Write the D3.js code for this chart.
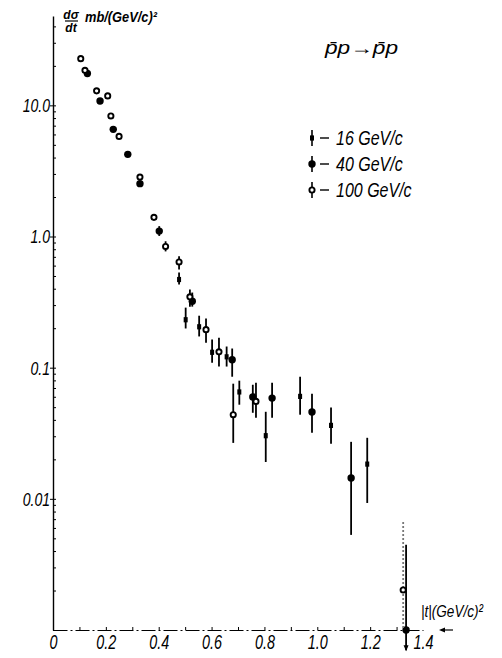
<!DOCTYPE html>
<html>
<head>
<meta charset="utf-8">
<script src="https://cdn.jsdelivr.net/npm/d3@7"></script>
<style>
    body { margin: 0; background: #fff; }
    svg text { font-family: 'Liberation Sans', Arial, sans-serif; font-style: italic; fill: #000; }
</style>
</head>
<body>
<svg id="chart"></svg>
<script>
// |t| in (GeV/c)^2, dsigma/dt in mb/(GeV/c)^2
const seriesLabels = ["16 GeV/c", "40 GeV/c", "100 GeV/c"];

const t16 = [0.477, 0.502, 0.553, 0.602, 0.657, 0.705, 0.805, 0.935, 1.052, 1.189];
const v16 = [0.47, 0.232, 0.205, 0.131, 0.121, 0.0653, 0.0303, 0.0604, 0.0363, 0.0184];
const lo16 = [0.43, 0.199, 0.173, 0.109, 0.102, 0.0522, 0.0191, 0.0438, 0.0263, 0.0093];
const hi16 = [0.531, 0.287, 0.249, 0.164, 0.145, 0.0796, 0.0461, 0.0853, 0.0496, 0.0292];

const t40 = [0.130, 0.178, 0.228, 0.283, 0.329, 0.402, 0.527, 0.678, 0.756, 0.829, 0.980, 1.128, 1.336];
const v40 = [17.5, 10.8, 6.56, 4.23, 2.53, 1.10, 0.321, 0.115, 0.0597, 0.0586, 0.0459, 0.0144, 0.001];
const lo40 = [17.5, 10.8, 6.56, 4.23, 2.53, 1.01, 0.292, 0.0853, 0.0453, 0.0415, 0.0319, 0.00531, 0.0007];
const hi40 = [17.5, 10.8, 6.56, 4.23, 2.53, 1.20, 0.374, 0.140, 0.0741, 0.0767, 0.0634, 0.0272, 0.00446];

const t100 = [0.105, 0.121, 0.165, 0.207, 0.219, 0.250, 0.329, 0.382, 0.426, 0.477, 0.518, 0.579, 0.628, 0.682, 0.768, 1.325];
const v100 = [22.7, 18.5, 12.9, 11.8, 8.3, 5.8, 2.84, 1.40, 0.84, 0.64, 0.347, 0.195, 0.132, 0.0438, 0.0553, 0.00202];
const lo100 = [22.7, 18.5, 12.9, 11.8, 8.3, 5.8, 2.84, 1.40, 0.77, 0.56, 0.292, 0.155, 0.102, 0.0267, 0.0415, 0.00102];
const hi100 = [22.7, 18.5, 12.9, 11.8, 8.3, 5.8, 2.84, 1.40, 0.92, 0.708, 0.394, 0.237, 0.169, 0.0755, 0.0767, 0.00667];

const xTicks = [0, 0.2, 0.4, 0.6, 0.8, 1.0, 1.2, 1.4];
const yTicks = [10, 1, 0.1, 0.01];
const yTickLabels = ["10.0", "1.0", "0.1", "0.01"];

const zip = (t, v, lo, hi) => t.map((d, i) => ({ t: d, v: v[i], lo: lo[i], hi: hi[i] }));

// squeeze text to look like the narrow hand lettering
const squeeze = (sel, k) => sel.each(function () {
    this.setAttribute("lengthAdjust", "spacingAndGlyphs");
    this.setAttribute("textLength", this.getComputedTextLength() * k);
});

class CrossSectionPlot {
    constructor(width, height) {
        this.width = width;
        this.height = height;
        this.svg = d3.select("#chart")
            .attr("width", width)
            .attr("height", height);

        this.series = [
            { label: seriesLabels[0], kind: "small", data: zip(t16, v16, lo16, hi16) },
            { label: seriesLabels[1], kind: "filled", data: zip(t40, v40, lo40, hi40) },
            { label: seriesLabels[2], kind: "open", data: zip(t100, v100, lo100, hi100) }
        ];

        this.initScales();
        this.plotAxes();
        this.plotSeries();
        this.plotLegend();
        this.plotLabels();
    }

    initScales() {
        this.x = d3.scaleLinear().domain([0, 1.4]).range([53, 423]);
        this.y = d3.scaleLog().domain([0.001, 48]).range([630, 16]);
    }

    plotAxes() {
        let x = this.x, y = this.y;

        // y axis with log minor ticks
        let yg = this.svg.append("g")
            .attr("class", "y-axis")
            .attr("transform", `translate(${x(0)},0)`)
            .call(d3.axisLeft(y)
                .tickValues(yTicks)
                .tickFormat((d, i) => yTickLabels[i])
                .tickSize(3)
                .tickPadding(0)
                .tickSizeOuter(0));
        yg.select(".domain").attr("stroke-width", 1.4);
        yg.selectAll("text")
            .attr("font-size", 18)
            .attr("dy", "0.36em")
            .call(squeeze, 0.78);

        let minor = [];
        for (let e = -3; e < 2; e++)
            for (let k = 1; k < 10; k++) {
                let v = k * Math.pow(10, e);
                if (v <= 48) minor.push(v);
            }
        this.svg.append("g")
            .attr("class", "y-minor")
            .attr("transform", `translate(${x(0)},0)`)
            .call(d3.axisRight(y).tickValues(minor).tickSize(3).tickFormat(""))
            .call(g => g.select(".domain").remove());

        // x axis, dash-dot like the print
        let xg = this.svg.append("g")
            .attr("class", "x-axis")
            .attr("transform", `translate(0,${y(0.001)})`)
            .call(d3.axisBottom(x)
                .tickValues(xTicks)
                .tickFormat(d => d === 0 ? "0" : d3.format(".1f")(d))
                .tickSize(0)
                .tickPadding(5));
        xg.select(".domain")
            .attr("stroke-width", 1.1)
            .attr("stroke-dasharray", "14,3,2,3");
        xg.selectAll("text")
            .attr("font-size", 20)
            .call(squeeze, 0.72);

        this.svg.append("g")
            .attr("class", "x-minor")
            .attr("transform", `translate(0,${y(0.001)})`)
            .call(d3.axisBottom(x).tickValues(d3.range(1, 14).map(d => d / 10)).tickSize(-3).tickFormat(""))
            .call(g => g.select(".domain").remove());
    }

    marker(sel, kind) {
        if (kind === "filled") {
            sel.append("circle").attr("r", 3.7).attr("fill", "#000");
        } else if (kind === "open") {
            sel.append("circle").attr("r", 2.6).attr("fill", "#fff")
                .attr("stroke", "#000").attr("stroke-width", 1.9);
        } else {
            sel.append("rect").attr("x", -2).attr("y", -2.6).attr("width", 4).attr("height", 5.2)
                .attr("fill", "#000");
        }
    }

    plotSeries() {
        let x = this.x, y = this.y;
        let yMin = y.domain()[0];

        this.series.forEach(s => {
            let g = this.svg.append("g").attr("class", "series");
            let last = s.data.length - 1;

            g.selectAll("line")
                .data(s.data.filter(d => d.hi > d.lo))
                .join("line")
                .attr("x1", d => x(d.t))
                .attr("x2", d => x(d.t))
                .attr("y1", d => y(d.hi))
                .attr("y2", d => y(d.lo))
                .attr("stroke", (d, i) => s.kind === "open" && d === s.data[last] ? "#777" : "#000")
                .attr("stroke-dasharray", d => s.kind === "open" && d === s.data[last] ? "2,2" : null)
                .attr("stroke-width", 1.8);

            // lower error running off the plot: arrow
            g.selectAll("path.arrow")
                .data(s.data.filter(d => d.lo < yMin))
                .join("path")
                .attr("class", "arrow")
                .attr("d", d => `M${x(d.t) - 2.5},${y(d.lo) - 5}L${x(d.t) + 2.5},${y(d.lo) - 5}L${x(d.t)},${y(d.lo) + 1}Z`)
                .attr("fill", "#000");

            g.selectAll("g.pt")
                .data(s.data)
                .join("g")
                .attr("class", "pt")
                .attr("transform", d => `translate(${x(d.t)},${y(d.v)})`)
                .call(sel => this.marker(sel, s.kind));
        });
    }

    plotLegend() {
        let row = d3.scaleLinear().domain([0, 2]).range([138, 190]);
        let items = this.svg.append("g")
            .attr("class", "legend")
            .selectAll("g")
            .data(this.series)
            .join("g")
            .attr("transform", (d, i) => `translate(312,${row(i)})`);

        items.append("line")
            .attr("y1", -8).attr("y2", 8)
            .attr("stroke", "#000").attr("stroke-width", 1.6);
        items.each((d, i, nodes) => this.marker(d3.select(nodes[i]), d.kind));
        items.append("line")
            .attr("x1", 8).attr("x2", 17)
            .attr("stroke", "#000").attr("stroke-width", 1.4);
        items.append("text")
            .attr("x", 24)
            .attr("dy", "0.36em")
            .attr("font-size", 20)
            .text(d => d.label)
            .call(squeeze, 0.8);
    }

    plotLabels() {
        let svg = this.svg;

        svg.append("text")
            .attr("x", 325).attr("y", 54)
            .attr("font-size", 18)
            .attr("textLength", 73)
            .attr("lengthAdjust", "spacingAndGlyphs")
            .text("p\u0304p\u2192p\u0304p");

        // y label: dsigma/dt mb/(GeV/c)^2
        let yl = svg.append("g").attr("class", "y-label");
        yl.append("text").attr("x", 71).attr("y", 19).attr("text-anchor", "middle")
            .attr("font-size", 12).attr("font-weight", "bold").text("d\u03c3");
        yl.append("line").attr("x1", 65).attr("x2", 78).attr("y1", 21).attr("y2", 21)
            .attr("stroke", "#000").attr("stroke-width", 1.2);
        yl.append("text").attr("x", 71).attr("y", 32).attr("text-anchor", "middle")
            .attr("font-size", 12).attr("font-weight", "bold").text("dt");
        yl.append("text").attr("x", 85).attr("y", 22)
            .attr("font-size", 15).attr("font-weight", "bold")
            .attr("textLength", 72).attr("lengthAdjust", "spacingAndGlyphs")
            .text("mb/(GeV/c)\u00b2");

        // x label and arrow
        svg.append("text")
            .attr("x", 421).attr("y", 617)
            .attr("font-size", 17)
            .attr("textLength", 62).attr("lengthAdjust", "spacingAndGlyphs")
            .text("|t|(GeV/c)\u00b2");
        svg.append("line")
            .attr("x1", 443).attr("x2", 453).attr("y1", 630).attr("y2", 630)
            .attr("stroke", "#000").attr("stroke-width", 1.2);
        svg.append("path")
            .attr("d", "M439,630L445,627.5L445,632.5Z")
            .attr("fill", "#000");
    }
}

new CrossSectionPlot(502, 658);
</script>
</body>
</html>
